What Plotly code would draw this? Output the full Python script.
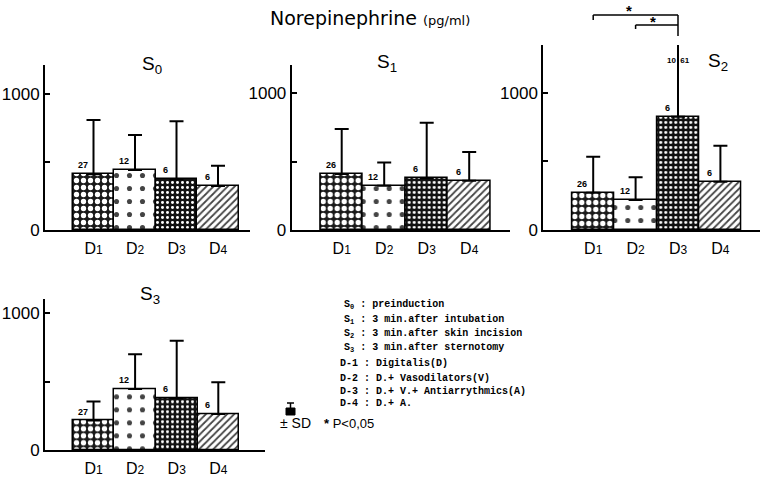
import plotly.graph_objects as go

W, H = 763, 478

categories = ["D1", "D2", "D3", "D4"]
tick_labels = ["D<span style='font-size:12px'>1</span>", "D<span style='font-size:12px'>2</span>",
               "D<span style='font-size:12px'>3</span>", "D<span style='font-size:12px'>4</span>"]
stage_titles = ["S<sub>0</sub>", "S<sub>1</sub>", "S<sub>2</sub>", "S<sub>3</sub>"]

s0_mean = [410, 441, 373, 323]
s0_sd = [399, 258, 426, 150]
s0_n = ["27", "12", "6", "6"]

s1_mean = [410, 324, 378, 361]
s1_sd = [329, 169, 407, 210]
s1_n = ["26", "12", "6", "6"]

s2_mean = [272, 218, 825, 352]
s2_sd = [262, 166, 535, 262]
s2_n = ["26", "12", "6", "6"]

s3_mean = [215, 446, 378, 263]
s3_sd = [139, 254, 422, 232]
s3_n = ["27", "12", "6", "6"]

legend_lines = [
    "S<sub>0</sub> : preinduction",
    "S<sub>1</sub> : 3 min.after intubation",
    "S<sub>2</sub> : 3 min.after skin incision",
    "S<sub>3</sub> : 3 min.after sternotomy",
    "D-1 : Digitalis(D)",
    "D-2 : D.+ Vasodilators(V)",
    "D-3 : D.+ V.+ Antiarrythmics(A)",
    "D-4 : D.+ A.",
]

means = [s0_mean, s1_mean, s2_mean, s3_mean]
sds = [s0_sd, s1_sd, s2_sd, s3_sd]
ns = [s0_n, s1_n, s2_n, s3_n]

# panel geometry in pixels: (x_left, x_right, y_zero, y_top, first bar centre, px per bar, px per 1000)
panels = [
    (45, 250, 230, 65, 93.5, 41.5, 136.0),
    (291.7, 510, 230, 65, 341.7, 42.5, 136.7),
    (543.3, 760, 230, 45, 593.2, 42.4, 137.3),
    (45, 265, 450, 299.3, 93.5, 41.6, 136.7),
]

pat_shape = [".", ".", ".", "/"]
pat_bg = ["#1a1a1a", "white", "#111111", "white"]
pat_fg = ["white", "black", "white", "black"]
pat_size = [7, 13, 5, 5]
pat_sol = [0.45, 0.12, 0.28, 0.35]

fig = go.Figure()
FONT = "Liberation Sans"

annotations = []
shapes = []

for k in range(4):
    xl, xr, y0, yt, c0, pb, p1000 = panels[k]
    sfx = "" if k == 0 else str(k + 1)
    fig.add_trace(go.Bar(
        x=categories, y=means[k],
        xaxis="x" + sfx, yaxis="y" + sfx,
        marker=dict(color=pat_bg, line=dict(color="black", width=1.5),
                    pattern=dict(shape=pat_shape, bgcolor=pat_bg, fgcolor=pat_fg,
                                 fgopacity=1, size=pat_size, solidity=pat_sol)),
        error_y=dict(type="data", symmetric=False, array=sds[k], arrayminus=[0] * 4,
                     color="black", thickness=2, width=7),
        width=1.0, cliponaxis=False,
        showlegend=False,
    ))
    r0 = -(c0 - xl) / pb
    r1 = r0 + (xr - xl) / pb
    ymax = (y0 - yt) / p1000 * 1000
    xdom = [xl / W, xr / W]
    ydom = [1 - y0 / H, 1 - yt / H]
    fig.layout["xaxis" + sfx] = dict(
        domain=xdom, anchor="y" + sfx, type="category", range=[r0, r1],
        tickvals=categories, ticktext=tick_labels, ticks="", showline=True,
        linecolor="black", linewidth=2, showgrid=False, zeroline=False, automargin=False,
        tickfont=dict(family=FONT, size=16, color="black"), ticklabelstandoff=3,
    )
    fig.layout["yaxis" + sfx] = dict(
        domain=ydom, anchor="x" + sfx, range=[0, ymax], automargin=False,
        tickvals=[0, 500, 1000], ticktext=["0", "", "1000"], ticks="inside", ticklen=5,
        tickwidth=1.5, tickcolor="black", showline=True, linecolor="black", linewidth=2,
        showgrid=False, zeroline=False,
        tickfont=dict(family=FONT, size=17, color="black"),
    )
    for i in range(4):
        annotations.append(dict(
            x=categories[i], y=means[k][i], xref="x" + sfx, yref="y" + sfx,
            text="<b>" + ns[k][i] + "</b>", showarrow=False, xanchor="center", yanchor="bottom",
            xshift=-11, yshift=2, font=dict(family=FONT, size=9, color="black"),
        ))


def py(p):
    return 1 - p / H


def px(p):
    return p / W


# panel titles
title_pos = [(140, 65), (387, 63), (730, 62), (138, 295)]
for k in range(4):
    tx, ty = title_pos[k]
    annotations.append(dict(x=px(tx), y=py(ty), xref="paper", yref="paper",
                            text=stage_titles[k], showarrow=False, yanchor="middle",
                            font=dict(family=FONT, size=19, color="black")))

# "10 61" label near top of S2 D3 error bar
annotations.append(dict(x=categories[2], y=py(61), xref="x3", yref="paper",
                        text="<b>10  61</b>", showarrow=False, yanchor="middle",
                        font=dict(family=FONT, size=8, color="black")))

# main title
annotations.append(dict(x=px(370), y=py(18), xref="paper", yref="paper", yanchor="middle",
                        text="Norepinephrine <span style='font-size:13px'>(pg/ml)</span>",
                        showarrow=False, font=dict(family="DejaVu Sans", size=19, color="black")))

# significance brackets in S2
br = dict(type="line", xref="x3", yref="paper", line=dict(color="black", width=1.5))
shapes.append(dict(br, x0=0, x1=2, y0=py(15), y1=py(15)))
shapes.append(dict(br, x0=0, x1=0, y0=py(15), y1=py(20)))
shapes.append(dict(br, x0=2, x1=2, y0=py(15), y1=py(36)))
shapes.append(dict(br, x0=1, x1=2, y0=py(25), y1=py(25)))
shapes.append(dict(br, x0=1, x1=1, y0=py(25), y1=py(29)))
annotations.append(dict(x=0.85, y=py(11), xref="x3", yref="paper", text="<b>*</b>",
                        showarrow=False, yanchor="middle",
                        font=dict(family=FONT, size=15, color="black")))
annotations.append(dict(x=1.4, y=py(22), xref="x3", yref="paper", text="<b>*</b>",
                        showarrow=False, yanchor="middle",
                        font=dict(family=FONT, size=15, color="black")))

# legend text
leg_y = [305, 320, 334, 348, 363, 378, 391, 403]
for i, line in enumerate(legend_lines):
    lx = 342 if i < 4 else 338
    annotations.append(dict(x=px(lx), y=py(leg_y[i]), xref="paper", yref="paper",
                            text="<b>" + line + "</b>", showarrow=False, xanchor="left",
                            yanchor="middle",
                            font=dict(family="Liberation Mono", size=10, color="black")))

# SD key
shapes.append(dict(type="rect", xref="paper", yref="paper", x0=px(286), x1=px(295),
                   y0=py(415), y1=py(408), fillcolor="black", line=dict(color="black", width=1)))
shapes.append(dict(type="line", xref="paper", yref="paper", x0=px(290.5), x1=px(290.5),
                   y0=py(408), y1=py(403), line=dict(color="black", width=1.5)))
shapes.append(dict(type="line", xref="paper", yref="paper", x0=px(287), x1=px(294),
                   y0=py(403), y1=py(403), line=dict(color="black", width=1.5)))
annotations.append(dict(x=px(278), y=py(423), xref="paper", yref="paper", text="± SD",
                        showarrow=False, xanchor="left", yanchor="middle",
                        font=dict(family=FONT, size=14, color="black")))
annotations.append(dict(x=px(322), y=py(423), xref="paper", yref="paper",
                        text="<b>*</b> P<0,05", showarrow=False, xanchor="left", yanchor="middle",
                        font=dict(family=FONT, size=13, color="black")))

fig.update_layout(
    width=W, height=H, margin=dict(l=0, r=0, t=0, b=0, autoexpand=False),
    paper_bgcolor="white", plot_bgcolor="white",
    bargap=0, annotations=annotations, shapes=shapes, showlegend=False,
)

fig.write_html("out.html")
